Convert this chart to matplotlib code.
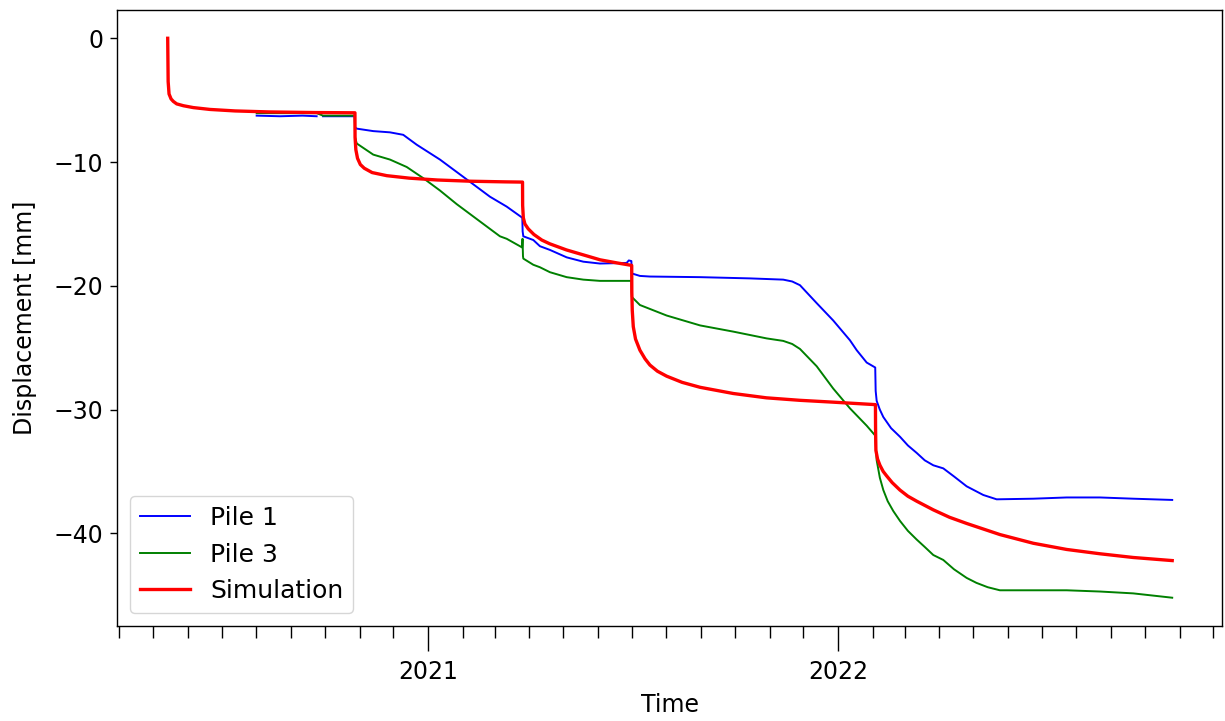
import numpy as np
import pandas as pd
import matplotlib
matplotlib.use("Agg")
import matplotlib.pyplot as plt
import matplotlib.dates as mdates

# days after the first simulation point
t0 = pd.Timestamp("2020-05-14")

pile1_days = [79.2, 100, 120, 132.6, 135, 138.3, 155, 166.5,
              166.8, 168.3, 183, 197.9, 209.7, 221.7, 242.4, 263.2, 286.9, 301.8, 315.7,
              316.0, 316.6, 325.5, 331.4, 340.3, 355.2, 370, 384.8, 408.6, 410.5, 412.8,
              413.2, 420.4, 429.3, 474, 518.4, 548, 556, 562.9, 577.8, 592.5, 607.4, 613.4, 622.3, 629.9,
              630.3, 631.2, 634, 637.1, 644, 652, 659, 666.8, 674, 681.6, 690.5, 700, 711.3, 726.1, 738,
              770.6, 800.3, 830, 859.6, 894.3]
pile1_disp = [-6.25, -6.3, -6.25, -6.3, np.nan, -6.3, -6.3, -6.3,
              -7.2, -7.3, -7.5, -7.6, -7.8, -8.6, -9.8, -11.2, -12.8, -13.6, -14.5,
              -15.6, -16.0, -16.3, -16.8, -17.1, -17.7, -18.05, -18.2, -18.15, -17.95, -18.0,
              -19.0, -19.2, -19.25, -19.3, -19.4, -19.5, -19.65, -19.95, -21.4, -22.8, -24.4, -25.2, -26.2, -26.6,
              -28.5, -29.3, -30.0, -30.6, -31.5, -32.2, -32.9, -33.5, -34.1, -34.5, -34.75, -35.4, -36.2, -36.9, -37.25,
              -37.2, -37.1, -37.1, -37.2, -37.3]

pile3_days = [79.2, 132.6, 138.3, 166.5,
              166.8, 168.3, 183, 197.9, 212.8, 227.5, 242.4, 257.3, 272.1, 286.9, 295.8, 301.8,
              313.6, 315.5, 315.9,
              316.3, 316.6, 325.5, 331.4, 340.3, 355.2, 370, 384.8, 412.8,
              413.2, 420.4, 444.2, 474, 503.5, 533.3, 548, 556, 562.9, 577.8, 592.5, 607.4, 622.3, 629.9,
              630.5, 631.2, 634, 637.1, 641, 646, 652, 659, 666.8, 674, 681.6, 690.5, 700, 711.3, 720,
              730, 740.9, 770.6, 800.3, 830, 859.6, 894.3]
pile3_disp = [-6.05, -6.05, -6.25, -6.25,
              -8.0, -8.5, -9.4, -9.8, -10.4, -11.3, -12.3, -13.4, -14.4, -15.4, -16.0, -16.2,
              -16.8, -16.9, -16.2,
              -17.6, -17.8, -18.3, -18.5, -18.9, -19.3, -19.5, -19.6, -19.6,
              -20.9, -21.55, -22.4, -23.2, -23.7, -24.25, -24.45, -24.7, -25.1, -26.5, -28.3, -29.9, -31.3, -32.1,
              -33.0, -34.1, -35.5, -36.5, -37.4, -38.2, -39.0, -39.8, -40.5, -41.1, -41.75, -42.15, -42.9, -43.6, -44.0,
              -44.35, -44.6, -44.6, -44.6, -44.7, -44.85, -45.2]

sim_days = [0, 0.4, 1.2, 3, 5, 8, 14, 22.8, 37.7, 60, 90, 130, 166.7,
            166.8, 167.5, 169, 171.5, 175, 182, 195, 215, 240, 270, 300, 315.9,
            316.0, 316.6, 318, 321, 326, 333, 340, 355, 370, 385, 400, 413.1,
            413.2, 413.6, 414.5, 416.5, 420.4, 425, 429.3, 436, 444.2, 458, 474, 503.5, 533,
            562.6, 592.5, 630.1,
            630.2, 630.5, 632, 634.1, 637, 640, 645, 651.9, 659, 666.8, 681.6, 696, 711.3,
            741, 770.6, 800.3, 830, 859.6, 894.3]
sim_disp = [0, -3.5, -4.5, -4.9, -5.1, -5.3, -5.45, -5.6, -5.75, -5.87, -5.95, -6.0, -6.02,
            -8.0, -9.0, -9.7, -10.2, -10.5, -10.85, -11.1, -11.3, -11.45, -11.55, -11.6, -11.62,
            -13.5, -14.5, -15.0, -15.4, -15.85, -16.3, -16.6, -17.1, -17.5, -17.9, -18.15, -18.35,
            -20.5, -22.0, -23.3, -24.3, -25.2, -25.9, -26.4, -26.9, -27.3, -27.8, -28.2, -28.7, -29.05,
            -29.25, -29.4, -29.6,
            -31.5, -33.3, -34.0, -34.5, -35.0, -35.35, -35.9, -36.5, -37.0, -37.4, -38.1, -38.7, -39.2,
            -40.1, -40.8, -41.3, -41.65, -41.95, -42.2]


def to_dates(days):
    return t0 + pd.to_timedelta(np.array(days, dtype=float), unit="D")


plt.rcParams["font.size"] = 17

fig = plt.figure(figsize=(12.25, 7.21), dpi=100)
ax = fig.add_axes([0.0959, 0.1322, 0.902, 0.8535])

ax.plot(to_dates(pile1_days), pile1_disp, color="blue", lw=1.4, label="Pile 1")
ax.plot(to_dates(pile3_days), pile3_disp, color="green", lw=1.4, label="Pile 3")
ax.plot(to_dates(sim_days), sim_disp, color="red", lw=2.4, label="Simulation")

ax.xaxis.set_major_locator(mdates.YearLocator())
ax.xaxis.set_major_formatter(mdates.DateFormatter("%Y"))
ax.xaxis.set_minor_locator(mdates.MonthLocator())
ax.tick_params(axis="x", which="major", length=18, width=1.0, pad=7)
ax.tick_params(axis="x", which="minor", length=8.6, width=1.0)
ax.tick_params(axis="y", length=5, width=1.0, pad=5)
for s in ax.spines.values():
    s.set_linewidth(1.0)

ax.set_xlabel("Time", labelpad=6)
ax.set_ylabel("Displacement [mm]", labelpad=12)
ax.legend(loc="lower left", fontsize=18)

fig.savefig("out.png", dpi=100)
